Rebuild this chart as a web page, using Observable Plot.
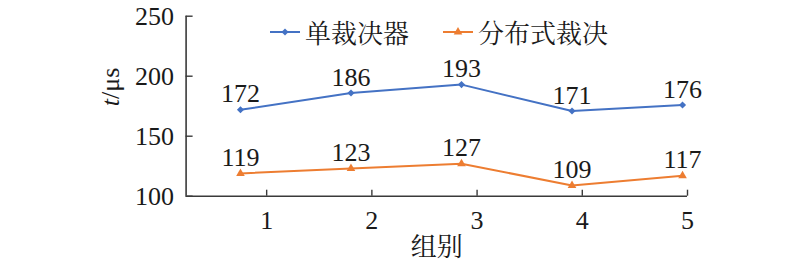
<!DOCTYPE html>
<html><head><meta charset="utf-8">
<script src="https://cdn.jsdelivr.net/npm/d3@7"></script>
<script src="https://cdn.jsdelivr.net/npm/@observablehq/plot@0.6"></script>
<style>
body{margin:0;background:#fff;}
#wrap{position:relative;width:800px;height:264px;overflow:hidden;}
.lg{position:absolute;display:flex;align-items:center;height:30px;font-family:"Noto Serif CJK SC","Noto Sans CJK SC",serif;font-size:26px;color:#1a1a1a;line-height:30px;}
.lg svg{margin-right:5px;}
</style></head><body><div id="wrap"></div>
<script>
// ---- data ----
const groups = [1, 2, 3, 4, 5];
const groupLabels = ["1", "2", "3", "4", "5"];
const seriesNames = ["单裁决器", "分布式裁决"];
const singleArbiter = [172, 186, 193, 171, 176];
const distributedArbiter = [119, 123, 127, 109, 117];
const yTicks = [100, 150, 200, 250];
const xTitle = "组别";
const yTitle = "t/μs";

// ---- layout ----
const colors = ["#4472C4", "#ED7D31"];
const symbols = ["diamond2", "triangle"];
const xMin = 0.508, xMax = 5.045, tickStep = 0.952;
const xTickPos = groups.map((g, i) => xMax - (groups.length - 1 - i) * tickStep);
const W = 800, H = 264, mL = 185.6, mR = 113, mT = 15.7, mB = 68.3;

const rows = [];
groups.forEach((g, i) => {
  rows.push({group: g, value: singleArbiter[i], series: seriesNames[0]});
  rows.push({group: g, value: distributedArbiter[i], series: seriesNames[1]});
});

const axisColor = "#3a3a3a";
const serif = "Liberation Serif";
const cjk = "Noto Serif CJK SC";
const chart = Plot.plot({
  width: W, height: H,
  marginLeft: mL, marginRight: mR, marginTop: mT, marginBottom: mB,
  style: {fontFamily: serif, fontSize: "26px", color: "#1a1a1a", background: "#fff", overflow: "visible"},
  x: {domain: [xMin, xMax]},
  y: {domain: [yTicks[0], yTicks[yTicks.length - 1]]},
  color: {domain: seriesNames, range: colors},
  symbol: {domain: seriesNames, range: symbols},
  marks: [
    Plot.axisX(xTickPos, {tickSize: 0, tickPadding: 14, tickFormat: d => groupLabels[xTickPos.indexOf(d)], label: null, fontSize: 26, fontFamily: serif}),
    Plot.axisY(yTicks, {tickSize: 0, tickPadding: 12, label: null, fontSize: 26, fontFamily: serif}),
    Plot.ruleY([yTicks[0]], {stroke: axisColor, strokeWidth: 1.6}),
    Plot.ruleX([xMin], {stroke: axisColor, strokeWidth: 1.6}),
    Plot.ruleX(xTickPos, {y1: yTicks[0], y2: yTicks[0] + 5, stroke: axisColor, strokeWidth: 1.4}),
    Plot.tickY(yTicks, {y: d => d, insetRight: W - mL - mR - 7, stroke: axisColor, strokeWidth: 1.4}),
    Plot.line(rows, {x: "group", y: "value", z: "series", stroke: "series", strokeWidth: 2}),
    Plot.dot(rows, {x: "group", y: "value", symbol: "series", fill: "series", r: 3.2, stroke: null}),
    Plot.text(rows, {x: "group", y: "value", text: d => String(d.value), lineAnchor: "bottom", dy: -7.5, fontSize: 26, fontFamily: serif, fill: "#1a1a1a"}),
    Plot.text([xTitle], {frameAnchor: "bottom", dy: 51, text: d => d, fontFamily: cjk, fontSize: 26, lineAnchor: "middle", fill: "#1a1a1a"}),
    Plot.text([yTitle], {frameAnchor: "left", dx: -75, rotate: -90, text: d => d, fontSize: 26, fontFamily: serif, lineAnchor: "middle", fill: "#1a1a1a"})
  ]
});
document.getElementById("wrap").appendChild(chart);

// force fonts inline; italic t in y title
d3.select(chart).selectAll("text").each(function () {
  const s = this.textContent;
  if (/[\u4e00-\u9fff]/.test(s)) this.style.fontFamily = '"Noto Serif CJK SC", "Noto Sans CJK SC", serif';
  else this.style.fontFamily = '"Liberation Serif", serif';
  if (s === yTitle) {
    this.textContent = "";
    d3.select(this).append("tspan").attr("font-style", "italic").text(s.slice(0, 1));
    d3.select(this).append("tspan").text(s.slice(1));
  }
});

// legend overlay
const legendLeft = [270, 443];
seriesNames.forEach((name, i) => {
  const div = document.createElement("div");
  div.className = "lg";
  div.style.left = legendLeft[i] + "px";
  div.style.top = "17px";
  const sym = d3.symbol(i === 0 ? d3.symbolDiamond2 : d3.symbolTriangle, Math.PI * 3.2 * 3.2)();
  div.innerHTML = `<svg width="30" height="16"><line x1="0" x2="30" y1="8" y2="8" stroke="${colors[i]}" stroke-width="2"/><path d="${sym}" transform="translate(15,8)" fill="${colors[i]}"/></svg><span>${name}</span>`;
  document.getElementById("wrap").appendChild(div);
});
</script></body></html>
